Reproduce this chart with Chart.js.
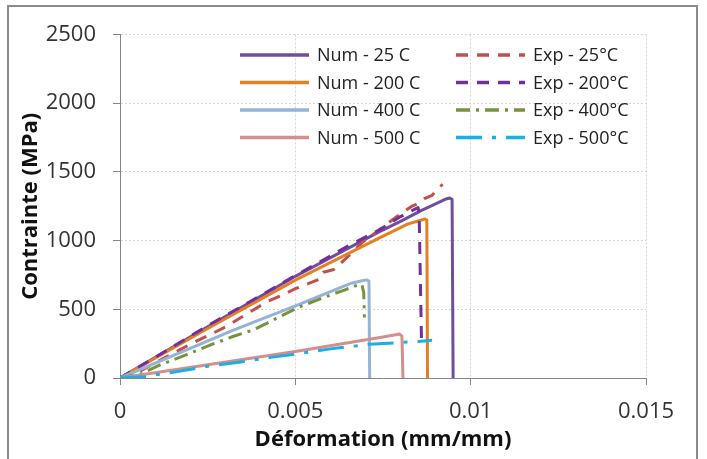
<!DOCTYPE html>
<html lang="fr">
<head>
    <meta charset="UTF-8">
    <title>Contrainte - Déformation</title>
    <style>
        html, body { margin: 0; padding: 0; background: #fff; }
        #wrap { width: 707px; height: 459px; }
    </style>
</head>
<body>
    <div id="wrap"><canvas id="courbes" width="707" height="459"></canvas></div>

    <script src="https://cdn.jsdelivr.net/npm/chart.js@4.4.0/dist/chart.umd.min.js"></script>
    <script>
        // axes
        const xTickLabels = ['0', '0.005', '0.01', '0.015'];
        const yTickLabels = ['0', '500', '1000', '1500', '2000', '2500'];

        // series names (Excel order: Num / Exp per row)
        const seriesNames = ['Num - 25 C', 'Exp - 25°C', 'Num - 200 C', 'Exp - 200°C',
                             'Num - 400 C', 'Exp - 400°C', 'Num - 500 C', 'Exp - 500°C'];

        // Num - 25 C
        const num25Strain = [0, 0.0025, 0.005, 0.0074, 0.0080, 0.0086, 0.0090, 0.0093, 0.0094, 0.00947, 0.0095];
        const num25Stress = [0, 372, 740, 1065, 1140, 1220, 1268, 1303, 1310, 1300, 0];

        // Exp - 25°C
        const exp25Strain = [0, 0.0005, 0.001, 0.002, 0.003, 0.0037, 0.0042, 0.0046, 0.0048, 0.0050, 0.0054,
                             0.0057, 0.0058, 0.0061, 0.0066, 0.0069, 0.0073, 0.0076, 0.0079, 0.0083, 0.0085,
                             0.0087, 0.0089, 0.0090, 0.0091, 0.0092];
        const exp25Stress = [0, 40, 110, 245, 370, 480, 556, 600, 625, 650, 690,
                             720, 770, 790, 908, 985, 1060, 1120, 1175, 1247, 1270,
                             1308, 1330, 1357, 1385, 1410];

        // Num - 200 C
        const num200Strain = [0, 0.0025, 0.005, 0.0074, 0.0082, 0.0086, 0.0087, 0.00875, 0.00877];
        const num200Stress = [0, 360, 712, 1020, 1120, 1150, 1157, 1150, 0];

        // Exp - 200°C
        const exp200Strain = [0, 0.001, 0.0025, 0.005, 0.0065, 0.0074, 0.0080, 0.0083, 0.0085, 0.00853, 0.0086];
        const exp200Stress = [0, 150, 380, 745, 960, 1078, 1175, 1215, 1240, 1200, 235];

        // Num - 400 C
        const num400Strain = [0, 0.0032, 0.005, 0.0066, 0.0069, 0.00703, 0.0071, 0.00712];
        const num400Stress = [0, 345, 525, 690, 708, 714, 705, 0];

        // Exp - 400°C
        const exp400Strain = [0, 0.0006, 0.00114, 0.0019, 0.00257, 0.0032, 0.0038, 0.0042, 0.00456, 0.0049,
                              0.00514, 0.0056, 0.006, 0.0064, 0.0067, 0.0069, 0.00695, 0.00697];
        const exp400Stress = [0, 30, 95, 170, 240, 300, 350, 400, 447, 490,
                              520, 565, 604, 640, 670, 680, 620, 440];

        // Num - 500 C
        const num500Strain = [0, 0.0025, 0.005, 0.0075, 0.0079, 0.00797, 0.00804, 0.00807];
        const num500Stress = [0, 97, 193, 298, 316, 320, 305, 0];

        // Exp - 500°C
        const exp500Strain = [0, 0.0007, 0.0016, 0.0025, 0.0035, 0.0043, 0.0051, 0.006, 0.0071, 0.008, 0.0085, 0.0089];
        const exp500Stress = [0, 10, 46, 85, 119, 150, 178, 212, 245, 258, 266, 275];

        const strains = [num25Strain, exp25Strain, num200Strain, exp200Strain, num400Strain, exp400Strain, num500Strain, exp500Strain];
        const stresses = [num25Stress, exp25Stress, num200Stress, exp200Stress, num400Stress, exp400Stress, num500Stress, exp500Stress];
        const colors = ['#6F4E9E', '#C0504D', '#E67E22', '#7030A0', '#95B3D7', '#77933C', '#D48E8C', '#1AAFE6'];
        const dashes = [[], [12, 9], [], [12, 9], [], [14, 6, 3, 6], [], [26, 10, 4, 10]];

        Chart.defaults.font.family = "'Open Sans', sans-serif";
        Chart.defaults.color = '#333';

        // grey frame around the chart area (excel style)
        const frame = {
            id: 'frame',
            beforeDraw(chart) {
                const ctx = chart.ctx;
                ctx.save();
                ctx.fillStyle = '#fff';
                ctx.fillRect(0, 0, chart.width, chart.height);
                ctx.strokeStyle = '#8c8c8c';
                ctx.lineWidth = 2;
                ctx.strokeRect(8, 6, 689, 480);
                ctx.restore();
            }
        };

        // legend in 2 columns x 4 rows, inside the plot
        const legendBox = {
            id: 'legendBox',
            afterDatasetsDraw(chart) {
                const ctx = chart.ctx;
                const area = chart.chartArea;
                ctx.save();
                ctx.font = "18px 'Open Sans'";
                ctx.textBaseline = 'middle';
                chart.data.datasets.forEach((ds, i) => {
                    const col = i % 2;
                    const row = Math.floor(i / 2);
                    const x0 = area.left + (col ? 336 : 120);
                    const y = area.top + 20.5 + row * 27.5;
                    ctx.strokeStyle = ds.borderColor;
                    ctx.lineWidth = 3.5;
                    ctx.setLineDash(ds.borderDash);
                    ctx.beginPath();
                    ctx.moveTo(x0, y);
                    ctx.lineTo(x0 + 69, y);
                    ctx.stroke();
                    ctx.setLineDash([]);
                    ctx.fillStyle = '#222';
                    ctx.fillText(ds.label, x0 + 77, y + 1);
                });
                ctx.restore();
            }
        };

        const datasets = seriesNames.map((name, i) => ({
            label: name,
            data: strains[i].map((x, k) => ({ x: x, y: stresses[i][k] })),
            showLine: true,
            borderColor: colors[i],
            backgroundColor: colors[i],
            borderWidth: 3,
            borderDash: dashes[i],
            borderJoinStyle: 'round',
            pointRadius: 0,
            tension: 0,
            order: seriesNames.length - i
        }));

        new Chart(document.getElementById('courbes').getContext('2d'), {
            type: 'scatter',
            data: { datasets: datasets },
            options: {
                responsive: false,
                animation: false,
                layout: { padding: { left: 10, top: 34.5, right: 61, bottom: 0 } },
                plugins: {
                    legend: { display: false },
                    tooltip: { enabled: false }
                },
                scales: {
                    x: {
                        type: 'linear',
                        min: 0,
                        max: 0.015,
                        afterFit(scale) { scale.height = 81; },
                        ticks: {
                            stepSize: 0.005,
                            padding: 14,
                            maxRotation: 0,
                            font: { size: 22 },
                            color: '#333',
                            callback: (v, i) => xTickLabels[i]
                        },
                        grid: { color: '#d4d4d4', tickLength: 7, tickColor: '#868686', lineWidth: 1 },
                        border: { color: '#868686', width: 1, dash: [2, 2] },
                        title: {
                            display: true,
                            text: 'Déformation (mm/mm)',
                            font: { size: 22, weight: 'bold' },
                            color: '#111',
                            padding: { top: 0, bottom: 6 }
                        }
                    },
                    y: {
                        min: 0,
                        max: 2500,
                        afterFit(scale) { scale.width = 110; },
                        ticks: {
                            stepSize: 500,
                            padding: 17,
                            font: { size: 22 },
                            color: '#333',
                            callback: (v, i) => yTickLabels[i]
                        },
                        grid: { color: '#d4d4d4', tickLength: 7, tickColor: '#868686', lineWidth: 1 },
                        border: { color: '#868686', width: 1, dash: [2, 2] },
                        title: {
                            display: true,
                            text: 'Contrainte (MPa)',
                            font: { size: 22, weight: 'bold' },
                            color: '#111',
                            padding: { top: 8, bottom: 0 }
                        }
                    }
                }
            },
            plugins: [frame, legendBox]
        });
    </script>
</body>
</html>
